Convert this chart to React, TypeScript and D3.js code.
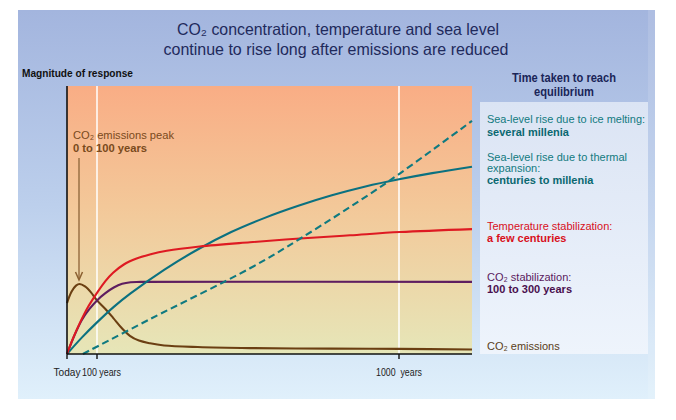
import React from "react";
import * as d3 from "d3";

// ---- data (years after today, magnitude of response 0..1) ----
const tickYears = [0, 100, 1000];
const tickLabels = ["Today", "100 years", "1000  years"];

const emissionsYears = [0, 15, 30, 42, 60, 80, 100, 125, 148, 175, 198, 225, 258, 300, 400, 556, 800, 1000, 1220];
const emissionsValues = [0.19, 0.232, 0.255, 0.261, 0.252, 0.23, 0.2, 0.168, 0.135, 0.095, 0.068, 0.05, 0.04, 0.032, 0.026, 0.022, 0.02, 0.019, 0.017];

const co2StabYears = [0, 25, 50, 75, 100, 125, 150, 175, 200, 230, 1220];
const co2StabValues = [0, 0.07, 0.128, 0.168, 0.2, 0.227, 0.248, 0.262, 0.268, 0.269, 0.269];

const tempYears = [0, 20, 43, 70, 100, 125, 148, 180, 218, 260, 308, 406, 556, 705, 854, 1003, 1220];
const tempValues = [0, 0.058, 0.116, 0.175, 0.228, 0.272, 0.303, 0.334, 0.356, 0.372, 0.385, 0.401, 0.417, 0.431, 0.443, 0.455, 0.466];

const thermalYears = [0, 50, 100, 150, 200, 300, 400, 500, 600, 700, 800, 900, 1000, 1100, 1220];
const thermalValues = [0, 0.062, 0.118, 0.176, 0.226, 0.314, 0.39, 0.455, 0.508, 0.553, 0.592, 0.625, 0.652, 0.675, 0.699];

const iceYears = [53, 258, 556, 705, 964, 1220];
const iceValues = [0, 0.13, 0.32, 0.43, 0.64, 0.87];

const FONT = "'Liberation Sans Narrow', 'Arial Narrow', 'Liberation Sans', Arial, sans-serif";

export default function App() {
  const W = 676, H = 420;
  const x = d3.scaleLinear().domain([0, 100, 1000, 1220]).range([67, 97, 399, 472]);
  const y = d3.scaleLinear().domain([0, 1]).range([354, 86]);
  const line = d3
    .line<[number, number]>()
    .x((d) => x(d[0]))
    .y((d) => y(d[1]))
    .curve(d3.curveCatmullRom.alpha(0.5));
  const zip = (a: number[], b: number[]) => a.map((v, i) => [v, b[i]] as [number, number]);

  const series = [
    { d: zip(emissionsYears, emissionsValues), c: "#6b3f12", dash: null },
    { d: zip(co2StabYears, co2StabValues), c: "#5e1d60", dash: null },
    { d: zip(thermalYears, thermalValues), c: "#0b7180", dash: null },
    { d: zip(tempYears, tempValues), c: "#de1a22", dash: null },
    { d: zip(iceYears, iceValues), c: "#0f7a80", dash: "7,4" },
  ];

  return (
    <svg width={W} height={H} style={{ position: "absolute", left: 0, top: 0 }} fontFamily={FONT}>
      <defs>
        <linearGradient id="bg" x1="0" y1="0" x2="0" y2="1">
          <stop offset="0" stopColor="#a3b5de" />
          <stop offset="0.5" stopColor="#bccfec" />
          <stop offset="1" stopColor="#e0f0fb" />
        </linearGradient>
        <linearGradient id="plot" x1="0" y1="0" x2="0" y2="1">
          <stop offset="0" stopColor="#f9ad85" />
          <stop offset="0.45" stopColor="#f3c899" />
          <stop offset="1" stopColor="#e6e6b8" />
        </linearGradient>
        <linearGradient id="leg" x1="0" y1="0" x2="0" y2="1">
          <stop offset="0" stopColor="#dbe4f4" />
          <stop offset="1" stopColor="#eef4fc" />
        </linearGradient>
      </defs>
      <rect x={18} y={10} width={637} height={389} fill="url(#bg)" />
      <rect x={648} y={10} width={7} height={389} fill="#ffffff" opacity={0.12} />

      <text x={338} y={35} textAnchor="middle" fontSize={16.5} fill="#1f2a5c" textLength={322} lengthAdjust="spacingAndGlyphs">
        CO₂ concentration, temperature and sea level
      </text>
      <text x={336} y={55} textAnchor="middle" fontSize={16.5} fill="#1f2a5c" textLength={345} lengthAdjust="spacingAndGlyphs">
        continue to rise long after emissions are reduced
      </text>

      <text x={22} y={77} fontSize={11} fontWeight="bold" fill="#111" textLength={111} lengthAdjust="spacingAndGlyphs">
        Magnitude of response
      </text>

      {/* plot area */}
      <rect x={x(0)} y={y(1)} width={x(1220) - x(0)} height={y(0) - y(1)} fill="url(#plot)" />
      {[100, 1000].map((t) => (
        <line key={t} x1={x(t)} x2={x(t)} y1={y(1)} y2={y(0)} stroke="#ffffff" strokeWidth={1.5} />
      ))}

      {/* legend panel */}
      <rect x={480} y={102} width={168} height={252} fill="url(#leg)" />
      <text x={564} y={82} textAnchor="middle" fontSize={12.5} fontWeight="bold" fill="#1a2558" textLength={104} lengthAdjust="spacingAndGlyphs">
        Time taken to reach
      </text>
      <text x={564} y={96} textAnchor="middle" fontSize={12.5} fontWeight="bold" fill="#1a2558" textLength={60} lengthAdjust="spacingAndGlyphs">
        equilibrium
      </text>

      <g fontSize={11}>
        <text x={487} y={123} fill="#127a80" textLength={158} lengthAdjust="spacingAndGlyphs">Sea-level rise due to ice melting:</text>
        <text x={487} y={136} fill="#0a6870" fontWeight="bold">several millenia</text>
        <text x={487} y={161} fill="#127a80">Sea-level rise due to thermal</text>
        <text x={487} y={172} fill="#127a80">expansion:</text>
        <text x={487} y={184} fill="#0a6870" fontWeight="bold">centuries to millenia</text>
        <text x={487} y={230} fill="#d8101c">Temperature stabilization:</text>
        <text x={487} y={242} fill="#d8101c" fontWeight="bold">a few centuries</text>
        <text x={487} y={281} fill="#5a1a5e">CO₂ stabilization:</text>
        <text x={487} y={293} fill="#4a0f4e" fontWeight="bold">100 to 300 years</text>
        <text x={487} y={350} fill="#5a4020">CO₂ emissions</text>
      </g>

      {/* annotation */}
      <g fontSize={11.5} fill="#7a4a1c">
        <text x={73} y={139} textLength={101} lengthAdjust="spacingAndGlyphs">CO₂ emissions peak</text>
        <text x={73} y={152} fontWeight="bold" textLength={74} lengthAdjust="spacingAndGlyphs">0 to 100 years</text>
      </g>
      <line x1={x(40)} x2={x(40)} y1={158} y2={279} stroke="#9a7045" strokeWidth={1.5} />
      <path
        d={`M${x(40) - 3.5},${272} L${x(40)},${280} L${x(40) + 3.5},${272}`}
        fill="none"
        stroke="#8a5f30"
        strokeWidth={1.5}
      />

      {/* curves */}
      {series.map((s, i) => (
        <path
          key={i}
          d={line(s.d) || ""}
          fill="none"
          stroke={s.c}
          strokeWidth={2.1}
          strokeDasharray={s.dash || undefined}
        />
      ))}

      {/* axes */}
      <line x1={x(0)} x2={x(0)} y1={y(1)} y2={y(0)} stroke="#111" strokeWidth={1.6} />
      <line x1={x(0)} x2={x(1220)} y1={y(0)} y2={y(0)} stroke="#111" strokeWidth={1.6} />
      {tickYears.map((t) => (
        <line key={t} x1={x(t)} x2={x(t)} y1={y(0)} y2={y(0) + 5} stroke="#111" strokeWidth={1.4} />
      ))}
      <g fontSize={10.5} fill="#222">
        <text x={x(0)} y={376} textAnchor="middle" textLength={27} lengthAdjust="spacingAndGlyphs">{tickLabels[0]}</text>
        <text x={82} y={376} textAnchor="start" textLength={39} lengthAdjust="spacingAndGlyphs">{tickLabels[1]}</text>
        <text x={x(1000)} y={376} textAnchor="middle" textLength={46} lengthAdjust="spacingAndGlyphs" style={{ whiteSpace: "pre" }}>{tickLabels[2]}</text>
      </g>
    </svg>
  );
}
